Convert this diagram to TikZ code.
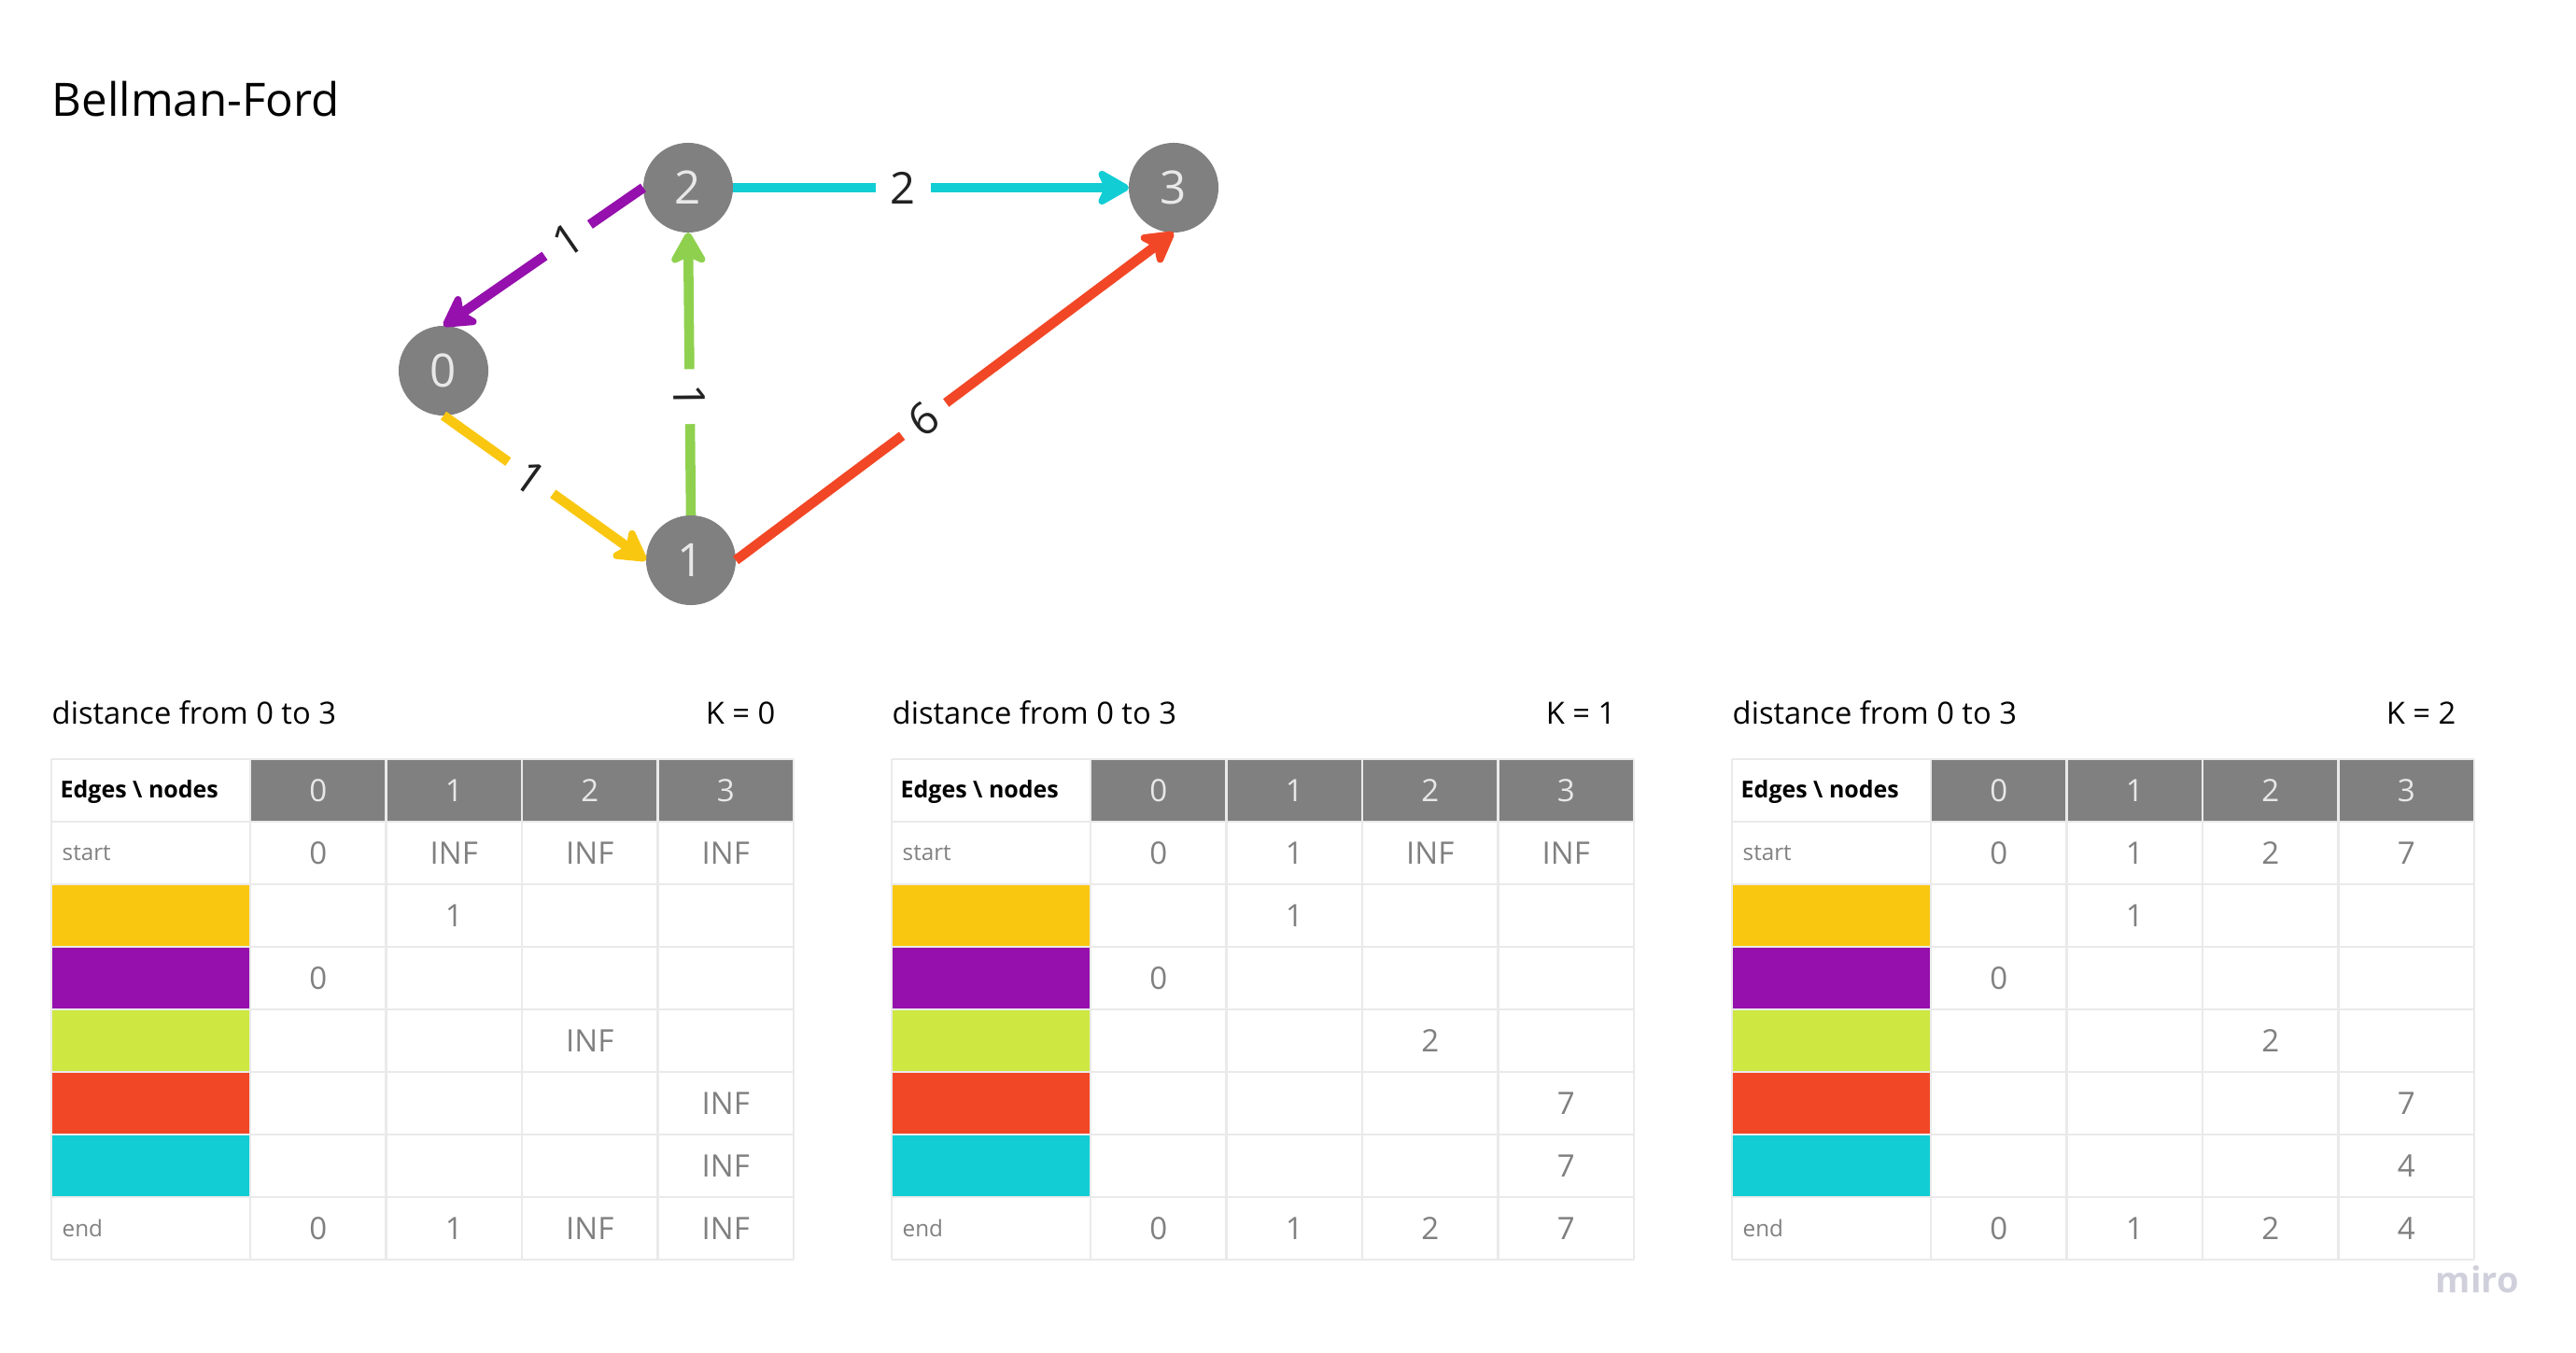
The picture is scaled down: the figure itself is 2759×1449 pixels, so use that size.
\documentclass[tikz,border=0pt]{standalone}
\usepackage{fontspec}
\setmainfont{Open Sans}
\usetikzlibrary{arrows.meta}

\definecolor{gris}{RGB}{128,128,128}
\definecolor{grisclaro}{RGB}{232,232,232}
\definecolor{rejillac}{RGB}{234,234,234}
\definecolor{amarillo}{HTML}{FAC710}
\definecolor{morado}{HTML}{9510AC}
\definecolor{lima}{HTML}{CEE741}
\definecolor{verde}{HTML}{8FD14F}
\definecolor{rojo}{HTML}{F24726}
\definecolor{cian}{HTML}{12CDD4}
\definecolor{tinta}{HTML}{222222}
\definecolor{marca}{RGB}{208,208,220}

\begin{document}
\begin{tikzpicture}[
    x=0.01cm,
    y=-0.01cm,
    nodo/.style={circle, fill=gris, minimum size=0.96cm, inner sep=0pt, outer sep=0pt,
        text=grisclaro, font=\fontsize{14}{16}\selectfont},
    arista/.style={line width=3pt, -{Stealth[length=11.5pt, width=13pt, inset=3pt, round]}},
    peso/.style={sloped, fill=white, inner xsep=4.5pt, inner ysep=1pt, text=tinta,
        font=\fontsize{13.4}{16}\selectfont},
    titulo/.style={anchor=base west, inner sep=0pt, font=\fontsize{9.3}{11}\selectfont},
    cabecera/.style={text=grisclaro, font=\fontsize{9.4}{11}\selectfont},
    valor/.style={text=gris, font=\fontsize{9.4}{11}\selectfont},
    fila/.style={anchor=base west, inner sep=0pt, text=gris, font=\fontsize{6.9}{8}\selectfont},
    rejilla/.style={draw=rejillac, line width=0.6pt}
]

\fill[white] (0,0) rectangle (2759,1449);
\useasboundingbox (0,0) rectangle (2759,1449);

\node[anchor=base west, inner sep=0pt, font=\fontsize{14}{16}\selectfont] (encabezado)
    at (55,125) {Bellman-Ford};

% Grafo
\node[nodo] (v0) at (475,397) {0};
\node[nodo] (v1) at (740,600) {1};
\node[nodo] (v2) at (737,201) {2};
\node[nodo] (v3) at (1257,201) {3};

\draw[arista, draw=amarillo] (v0.south) -- node[peso, pos=0.43] {1} (v1.west);
\draw[arista, draw=morado] (v2.west) -- node[peso, pos=0.38] {1} (v0.north);
\draw[arista, draw=verde] (v1.north) -- node[peso, pos=0.42] {1} (v2.south);
\draw[arista, draw=rojo] (v1.east) -- node[peso, pos=0.43] {6} (v3.south);
\draw[arista, draw=cian] (v2.east) -- node[peso, pos=0.43] {2} (v3.west);

% Tablas: K / desplazamiento / inicio / aristas / fin
\foreach \k/\ox/\sa/\sb/\sc/\sd/\va/\vb/\vc/\vd/\ve/\ea/\eb/\ec/\ed in {
    0/0/0/INF/INF/INF/1/0/INF/INF/INF/0/1/INF/INF,
    1/900/0/1/INF/INF/1/0/2/7/7/0/1/2/7,
    2/1800/0/1/2/7/1/0/2/7/4/0/1/2/4}
{
    \node[titulo] (dist\k) at (\ox+55,775) {distance from 0 to 3};
    \node[titulo, anchor=base east] (k\k) at (\ox+831,775) {K = \k};

    % cabecera y colores de aristas
    \fill[gris] (\ox+268,813) rectangle (\ox+850,880);
    \foreach \col [count=\rr from 2] in {amarillo,morado,lima,rojo,cian}
        \fill[\col] (\ox+55,813+67*\rr) rectangle (\ox+268,880+67*\rr);

    % rejilla
    \foreach \i in {0,...,8}
        \draw[rejilla] (\ox+55,813+67*\i) -- (\ox+850,813+67*\i);
    \foreach \xx in {55,268,413.5,559,704.5,850}
        \draw[rejilla] (\ox+\xx,813) -- (\ox+\xx,1349);

    % textos
    \node[fila, text=black, font=\bfseries\fontsize{7.1}{8}\selectfont] (esq\k)
        at (\ox+64,855) {Edges \textbackslash\ nodes};
    \node[fila] (ini\k) at (\ox+66,922) {start};
    \node[fila] (fin\k) at (\ox+66,1324) {end};
    \foreach \jj in {0,...,3}
        \node[cabecera] (h\k-\jj) at ({\ox+340.75+145.5*\jj},846.5) {\jj};
    \foreach \val [count=\jj from 0] in {\sa,\sb,\sc,\sd}
        \node[valor] (s\k-\jj) at ({\ox+340.75+145.5*\jj},913.5) {\val};
    \foreach \val/\rr/\jj in {\va/2/1,\vb/3/0,\vc/4/2,\vd/5/3,\ve/6/3}
        \node[valor] (e\k-\rr) at ({\ox+340.75+145.5*\jj},{846.5+67*\rr}) {\val};
    \foreach \val [count=\jj from 0] in {\ea,\eb,\ec,\ed}
        \node[valor] (f\k-\jj) at ({\ox+340.75+145.5*\jj},1315.5) {\val};
}

\node[anchor=base west, inner sep=0pt, text=marca, font=\bfseries\fontsize{10.8}{12}\selectfont]
    (logo) at (2608,1384) {miro};

\end{tikzpicture}
\end{document}
